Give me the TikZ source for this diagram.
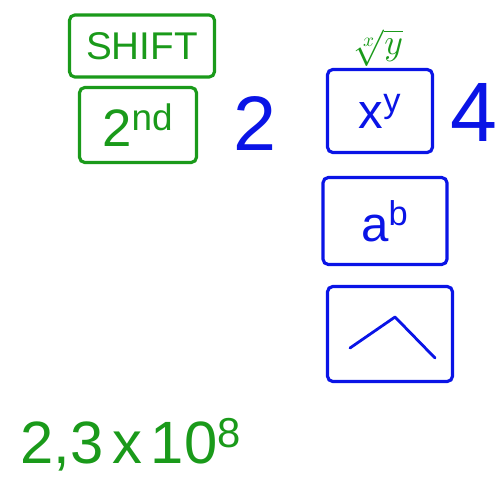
\documentclass[tikz,border=0pt]{standalone}
\usepackage{fontspec}
\setmainfont{Liberation Sans}
\usetikzlibrary{positioning}
\definecolor{pengreen}{HTML}{1A9A1A}
\definecolor{penblue}{HTML}{0A14E6}

\begin{document}
\begin{tikzpicture}[x=0.02cm,y=-0.02cm,
  keybox/.style={draw,line width=1.8pt,rounded corners=3pt,inner sep=0pt},
  greenkey/.style={keybox,pengreen,text=pengreen},
  bluekey/.style={keybox,penblue,text=penblue}]
  \useasboundingbox (0,0) rectangle (499,482);
  % tasti verdi
  \node[greenkey,minimum width=2.9cm,minimum height=1.24cm] (shift) at (142,46)
    {\fontsize{22}{26}\selectfont SHIFT};
  \node[greenkey,minimum width=2.34cm,minimum height=1.5cm] (second) at (138,125)
    {\fontsize{30}{34}\selectfont 2\textsuperscript{nd}};
  \node[pengreen,inner sep=0pt] (root) at (378,48) {\fontsize{22}{26}\selectfont$\sqrt[x]{y}$};
  % tasti blu
  \node[bluekey,minimum width=2.1cm,minimum height=1.66cm] (power) at (380,111)
    {\fontsize{28}{32}\selectfont x\textsuperscript{y}};
  \node[bluekey,minimum width=2.48cm,minimum height=1.74cm] (ab) at (385,221)
    {\fontsize{28}{32}\selectfont a\textsuperscript{b}};
  \node[bluekey,minimum width=2.5cm,minimum height=1.9cm] (caret) at (390,334) {};
  \draw[penblue,line width=1.6pt,line cap=round,line join=round]
    (350,348) -- (395,317) -- (435,358);
  \node[penblue] (two) at (255,124) {\fontsize{44}{50}\selectfont 2};
  \node[penblue] (four) at (474,112) {\fontsize{48}{54}\selectfont 4};
  % numero
  \node[pengreen,anchor=base west] (number) at (14,463)
    {\fontsize{34}{38}\selectfont 2,3\hspace{0.15em}x\hspace{0.15em}10\textsuperscript{8}};
\end{tikzpicture}
\end{document}
